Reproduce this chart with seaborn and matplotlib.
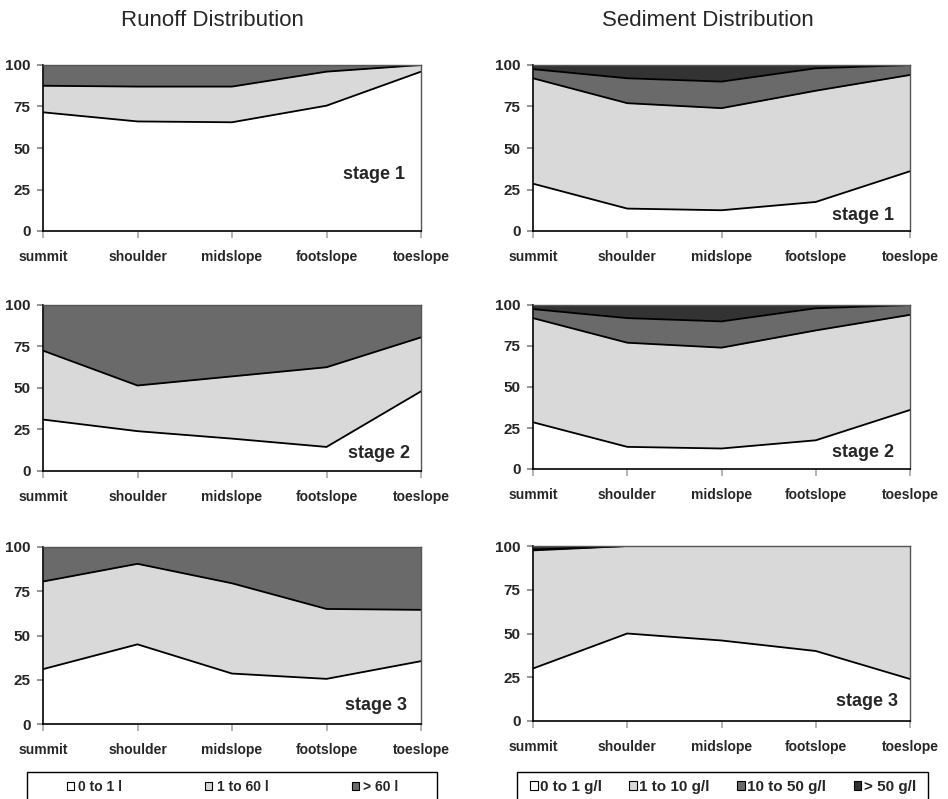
import numpy as np
import matplotlib
matplotlib.use("Agg")
import matplotlib.pyplot as plt
from matplotlib.patches import Patch, Rectangle
import seaborn as sns

positions = ["summit", "shoulder", "midslope", "footslope", "toeslope"]

runoff_classes = ["0 to 1 l", "1 to 60 l", "> 60 l"]
sediment_classes = ["0 to 1 g/l", "1 to 10 g/l", "10 to 50 g/l", "> 50 g/l"]

# runoff share (%) per class, stages 1-3
runoff_s1_low = [71.5, 66, 65.5, 75.5, 96]
runoff_s1_mid = [16, 21, 21.5, 20.5, 4]
runoff_s1_high = [12.5, 13, 13, 4, 0]

runoff_s2_low = [31, 24, 19.5, 14.5, 48]
runoff_s2_mid = [41.5, 27.5, 37.5, 48, 32.5]
runoff_s2_high = [27.5, 48.5, 43, 37.5, 19.5]

runoff_s3_low = [31, 45, 28.5, 25.5, 35.5]
runoff_s3_mid = [49.5, 45.5, 51, 39.5, 29]
runoff_s3_high = [19.5, 9.5, 20.5, 35, 35.5]

# sediment share (%) per class, stages 1-3
sed_s1_c1 = [28.5, 13.5, 12.5, 17.5, 36]
sed_s1_c2 = [63.5, 63.5, 61.5, 67, 58]
sed_s1_c3 = [5.5, 15, 16, 13.5, 6]
sed_s1_c4 = [2.5, 8, 10, 2, 0]

sed_s2_c1 = [28.5, 13.5, 12.5, 17.5, 36]
sed_s2_c2 = [63.5, 63.5, 61.5, 67, 58]
sed_s2_c3 = [5.5, 15, 16, 13.5, 6]
sed_s2_c4 = [2.5, 8, 10, 2, 0]

sed_s3_c1 = [30, 50, 46, 40, 24]
sed_s3_c2 = [67.5, 50, 54, 60, 76]
sed_s3_c3 = [0.5, 0, 0, 0, 0]
sed_s3_c4 = [2, 0, 0, 0, 0]

stages = ["stage 1", "stage 2", "stage 3"]

runoff = [[runoff_s1_low, runoff_s1_mid, runoff_s1_high],
          [runoff_s2_low, runoff_s2_mid, runoff_s2_high],
          [runoff_s3_low, runoff_s3_mid, runoff_s3_high]]
sediment = [[sed_s1_c1, sed_s1_c2, sed_s1_c3, sed_s1_c4],
            [sed_s2_c1, sed_s2_c2, sed_s2_c3, sed_s2_c4],
            [sed_s3_c1, sed_s3_c2, sed_s3_c3, sed_s3_c4]]

runoff_colors = ["white", "#d9d9d9", "#6a6a6a"]
sed_colors = ["white", "#d9d9d9", "#6a6a6a", "#333333"]

sns.set_theme(style="ticks")
plt.rcParams["font.family"] = ["Liberation Sans", "DejaVu Sans"]

W, H = 948, 799
fig = plt.figure(figsize=(W / 100, H / 100), dpi=100)


def px_axes(x0, y0, x1, y1):
    return fig.add_axes([x0 / W, 1 - y1 / H, (x1 - x0) / W, (y1 - y0) / H])


# pixel layout: left column / right column
col_px = [(43, 421), (533, 910)]
row_px = [[(65, 231), (305, 471), (547, 724)],
          [(65, 231), (305, 469), (546, 721)]]
label_pos = [[(0.875, 0.343), (0.89, 0.108), (0.88, 0.107)],
             [(0.875, 0.092), (0.875, 0.098), (0.886, 0.11)]]


def draw_panel(ax, layers, colors, stage, lpos):
    x = np.arange(len(positions))
    cum = np.cumsum(np.array(layers, dtype=float), axis=0)
    lower = np.zeros(len(positions))
    for i, c in enumerate(colors):
        ax.fill_between(x, lower, cum[i], color=c, lw=0)
        lower = cum[i]
    for i in range(len(colors) - 1):
        sns.lineplot(x=x, y=cum[i], color="black", lw=1.3, ax=ax, legend=False)
    ax.set_xlim(0, 4)
    ax.set_ylim(0, 100)
    ax.set_xticks(x)
    ax.set_xticklabels(positions, fontweight="bold", fontsize=10)
    ax.set_yticks([0, 25, 50, 75, 100])
    ax.set_yticklabels(["0", "25", "50", "75", "100"], fontweight="bold", fontsize=11)
    ax.set_xlabel("")
    ax.set_ylabel("")
    ax.tick_params(axis="x", length=5, color="#aaaaaa", pad=9)
    ax.tick_params(axis="y", length=4, color="#888888", pad=5)
    for s in ["left", "bottom"]:
        ax.spines[s].set_color("black")
        ax.spines[s].set_linewidth(1.2)
    for s in ["top", "right"]:
        ax.spines[s].set_color("#555555")
        ax.spines[s].set_linewidth(1)
    ax.text(lpos[0], lpos[1], stage, transform=ax.transAxes, ha="center", va="center",
            fontsize=13, fontweight="bold")


for r in range(3):
    y0, y1 = row_px[0][r]
    axl = px_axes(col_px[0][0], y0, col_px[0][1], y1)
    draw_panel(axl, runoff[r], runoff_colors, stages[r], label_pos[0][r])
    y0, y1 = row_px[1][r]
    axr = px_axes(col_px[1][0], y0, col_px[1][1], y1)
    draw_panel(axr, sediment[r], sed_colors, stages[r], label_pos[1][r])

fig.text(212 / W, 1 - 20 / H, "Runoff Distribution", ha="center", va="center", fontsize=16)
fig.text(708 / W, 1 - 20 / H, "Sediment Distribution", ha="center", va="center", fontsize=16)


def add_legend(labels, colors, box_x0, box_x1, first_x, colspace, textpad, size):
    fig.patches.append(Rectangle((box_x0 / W, 1 - 810 / H), (box_x1 - box_x0) / W, 38 / H,
                                 transform=fig.transFigure, facecolor="white",
                                 edgecolor="black", lw=1, zorder=0))
    handles = [Patch(facecolor=c, edgecolor="black", lw=0.8) for c in colors]
    fig.legend(handles, labels, loc="upper left",
               bbox_to_anchor=(first_x / W, 1 - 780 / H),
               ncol=len(labels), frameon=False, borderaxespad=0, borderpad=0,
               handlelength=0.5, handleheight=0.5, handletextpad=textpad,
               columnspacing=colspace, prop={"weight": "bold", "size": size})


add_legend(runoff_classes, runoff_colors, 27, 437, 67, 6.0, 0.3, 10)
add_legend(sediment_classes, sed_colors, 517, 928, 530, 1.8, 0.15, 11)

fig.savefig("out.png", dpi=100)
